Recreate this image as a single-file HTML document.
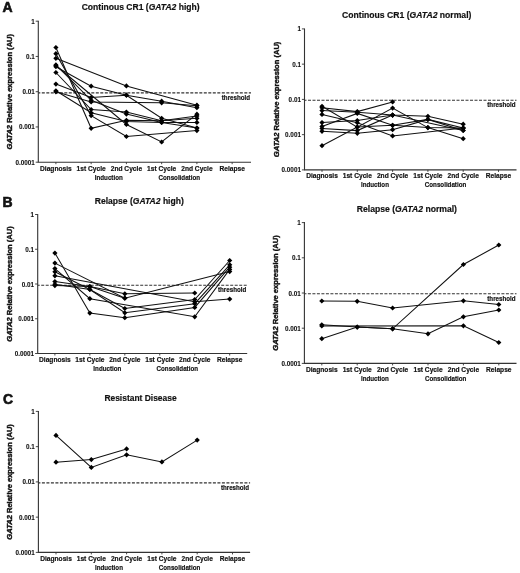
<!DOCTYPE html>
<html><head><meta charset="utf-8"><style>
html,body{margin:0;padding:0;background:#fff;}
svg{display:block;filter:blur(0.3px);}
text{font-family:"Liberation Sans", sans-serif;fill:#111;stroke:#111;stroke-width:0.18px;}
</style></head><body>
<svg width="520" height="573" viewBox="0 0 520 573">
<path d="M38.30 20.70 V162.20 H251.00" stroke="#333" stroke-width="1.1" fill="none"/>
<line x1="35.70" y1="21.20" x2="38.30" y2="21.20" stroke="#333" stroke-width="0.9"/>
<text transform="translate(34.70,23.70) scale(0.93,1)" font-size="6.8" text-anchor="end" font-weight="bold" style="stroke-width:0.1px">1</text>
<line x1="35.70" y1="56.45" x2="38.30" y2="56.45" stroke="#333" stroke-width="0.9"/>
<text transform="translate(34.70,58.95) scale(0.93,1)" font-size="6.8" text-anchor="end" font-weight="bold" style="stroke-width:0.1px">0.1</text>
<line x1="35.70" y1="91.70" x2="38.30" y2="91.70" stroke="#333" stroke-width="0.9"/>
<text transform="translate(34.70,94.20) scale(0.93,1)" font-size="6.8" text-anchor="end" font-weight="bold" style="stroke-width:0.1px">0.01</text>
<line x1="35.70" y1="126.95" x2="38.30" y2="126.95" stroke="#333" stroke-width="0.9"/>
<text transform="translate(34.70,129.45) scale(0.93,1)" font-size="6.8" text-anchor="end" font-weight="bold" style="stroke-width:0.1px">0.001</text>
<line x1="35.70" y1="162.20" x2="38.30" y2="162.20" stroke="#333" stroke-width="0.9"/>
<text transform="translate(34.70,164.70) scale(0.93,1)" font-size="6.8" text-anchor="end" font-weight="bold" style="stroke-width:0.1px">0.0001</text>
<line x1="55.90" y1="162.20" x2="55.90" y2="164.20" stroke="#333" stroke-width="0.9"/>
<text transform="translate(55.90,170.50) scale(0.95,1)" font-size="7.0" text-anchor="middle" font-weight="bold" >Diagnosis</text>
<line x1="91.15" y1="162.20" x2="91.15" y2="164.20" stroke="#333" stroke-width="0.9"/>
<text transform="translate(91.15,170.50) scale(0.95,1)" font-size="7.0" text-anchor="middle" font-weight="bold" >1st Cycle</text>
<line x1="126.40" y1="162.20" x2="126.40" y2="164.20" stroke="#333" stroke-width="0.9"/>
<text transform="translate(126.40,170.50) scale(0.95,1)" font-size="7.0" text-anchor="middle" font-weight="bold" >2nd Cycle</text>
<line x1="161.65" y1="162.20" x2="161.65" y2="164.20" stroke="#333" stroke-width="0.9"/>
<text transform="translate(161.65,170.50) scale(0.95,1)" font-size="7.0" text-anchor="middle" font-weight="bold" >1st Cycle</text>
<line x1="196.90" y1="162.20" x2="196.90" y2="164.20" stroke="#333" stroke-width="0.9"/>
<text transform="translate(196.90,170.50) scale(0.95,1)" font-size="7.0" text-anchor="middle" font-weight="bold" >2nd Cycle</text>
<line x1="232.15" y1="162.20" x2="232.15" y2="164.20" stroke="#333" stroke-width="0.9"/>
<text transform="translate(232.15,170.50) scale(0.95,1)" font-size="7.0" text-anchor="middle" font-weight="bold" >Relapse</text>
<text transform="translate(108.78,179.60) scale(0.89,1)" font-size="7.0" text-anchor="middle" font-weight="bold" >Induction</text>
<text transform="translate(179.28,179.60) scale(0.89,1)" font-size="7.0" text-anchor="middle" font-weight="bold" >Consolidation</text>
<line x1="38.30" y1="92.90" x2="251.00" y2="92.90" stroke="#333" stroke-width="1.1" stroke-dasharray="3.0 1.5" stroke-dashoffset="1"/>
<text transform="translate(250.00,99.60) scale(0.94,1)" font-size="6.6" text-anchor="end" font-weight="bold" >threshold</text>
<text x="0" y="0" font-size="7.55" font-weight="bold" text-anchor="middle" style="stroke-width:0.4px" transform="translate(12.30,91.70) rotate(-90)"><tspan font-style="italic">GATA2</tspan> Relative expression (AU)</text>
<text x="81.70" y="10.10" font-size="8.55" font-weight="bold">Continous CR1 (<tspan font-style="italic">GATA2</tspan> high)</text>
<path d="M55.90 47.50 L91.15 128.30 L126.40 120.30 L161.65 120.80 L196.90 115.90" stroke="#111" stroke-width="1.05" fill="none"/>
<path d="M55.90 53.70 L91.15 115.60 L126.40 136.50 L196.90 130.60" stroke="#111" stroke-width="1.05" fill="none"/>
<path d="M55.90 58.30 L126.40 85.90 L196.90 105.20" stroke="#111" stroke-width="1.05" fill="none"/>
<path d="M55.90 64.90 L91.15 100.30 L126.40 114.10 L161.65 122.40 L196.90 122.40" stroke="#111" stroke-width="1.05" fill="none"/>
<path d="M55.90 66.70 L91.15 86.20 L126.40 95.20 L161.65 118.30 L196.90 128.10" stroke="#111" stroke-width="1.05" fill="none"/>
<path d="M55.90 72.50 L91.15 109.50 L126.40 112.00 L161.65 120.80 L196.90 118.30" stroke="#111" stroke-width="1.05" fill="none"/>
<path d="M55.90 84.10 L91.15 97.50 L126.40 95.20 L161.65 101.20 L196.90 107.70" stroke="#111" stroke-width="1.05" fill="none"/>
<path d="M55.90 90.80 L91.15 112.80 L126.40 121.50 L161.65 122.40 L196.90 128.10" stroke="#111" stroke-width="1.05" fill="none"/>
<path d="M55.90 91.80 L91.15 102.00 L161.65 102.80 L196.90 105.80" stroke="#111" stroke-width="1.05" fill="none"/>
<path d="M55.90 65.50 L126.40 124.50 L161.65 142.00 L196.90 114.20" stroke="#111" stroke-width="1.05" fill="none"/>
<path d="M55.90 44.90 L58.50 47.50 L55.90 50.10 L53.30 47.50Z" fill="#000"/>
<path d="M91.15 125.70 L93.75 128.30 L91.15 130.90 L88.55 128.30Z" fill="#000"/>
<path d="M126.40 117.70 L129.00 120.30 L126.40 122.90 L123.80 120.30Z" fill="#000"/>
<path d="M161.65 118.20 L164.25 120.80 L161.65 123.40 L159.05 120.80Z" fill="#000"/>
<path d="M196.90 113.30 L199.50 115.90 L196.90 118.50 L194.30 115.90Z" fill="#000"/>
<path d="M55.90 51.10 L58.50 53.70 L55.90 56.30 L53.30 53.70Z" fill="#000"/>
<path d="M91.15 113.00 L93.75 115.60 L91.15 118.20 L88.55 115.60Z" fill="#000"/>
<path d="M126.40 133.90 L129.00 136.50 L126.40 139.10 L123.80 136.50Z" fill="#000"/>
<path d="M196.90 128.00 L199.50 130.60 L196.90 133.20 L194.30 130.60Z" fill="#000"/>
<path d="M55.90 55.70 L58.50 58.30 L55.90 60.90 L53.30 58.30Z" fill="#000"/>
<path d="M126.40 83.30 L129.00 85.90 L126.40 88.50 L123.80 85.90Z" fill="#000"/>
<path d="M196.90 102.60 L199.50 105.20 L196.90 107.80 L194.30 105.20Z" fill="#000"/>
<path d="M55.90 62.30 L58.50 64.90 L55.90 67.50 L53.30 64.90Z" fill="#000"/>
<path d="M91.15 97.70 L93.75 100.30 L91.15 102.90 L88.55 100.30Z" fill="#000"/>
<path d="M126.40 111.50 L129.00 114.10 L126.40 116.70 L123.80 114.10Z" fill="#000"/>
<path d="M161.65 119.80 L164.25 122.40 L161.65 125.00 L159.05 122.40Z" fill="#000"/>
<path d="M196.90 119.80 L199.50 122.40 L196.90 125.00 L194.30 122.40Z" fill="#000"/>
<path d="M55.90 64.10 L58.50 66.70 L55.90 69.30 L53.30 66.70Z" fill="#000"/>
<path d="M91.15 83.60 L93.75 86.20 L91.15 88.80 L88.55 86.20Z" fill="#000"/>
<path d="M126.40 92.60 L129.00 95.20 L126.40 97.80 L123.80 95.20Z" fill="#000"/>
<path d="M161.65 115.70 L164.25 118.30 L161.65 120.90 L159.05 118.30Z" fill="#000"/>
<path d="M196.90 125.50 L199.50 128.10 L196.90 130.70 L194.30 128.10Z" fill="#000"/>
<path d="M55.90 69.90 L58.50 72.50 L55.90 75.10 L53.30 72.50Z" fill="#000"/>
<path d="M91.15 106.90 L93.75 109.50 L91.15 112.10 L88.55 109.50Z" fill="#000"/>
<path d="M126.40 109.40 L129.00 112.00 L126.40 114.60 L123.80 112.00Z" fill="#000"/>
<path d="M161.65 118.20 L164.25 120.80 L161.65 123.40 L159.05 120.80Z" fill="#000"/>
<path d="M196.90 115.70 L199.50 118.30 L196.90 120.90 L194.30 118.30Z" fill="#000"/>
<path d="M55.90 81.50 L58.50 84.10 L55.90 86.70 L53.30 84.10Z" fill="#000"/>
<path d="M91.15 94.90 L93.75 97.50 L91.15 100.10 L88.55 97.50Z" fill="#000"/>
<path d="M126.40 92.60 L129.00 95.20 L126.40 97.80 L123.80 95.20Z" fill="#000"/>
<path d="M161.65 98.60 L164.25 101.20 L161.65 103.80 L159.05 101.20Z" fill="#000"/>
<path d="M196.90 105.10 L199.50 107.70 L196.90 110.30 L194.30 107.70Z" fill="#000"/>
<path d="M55.90 88.20 L58.50 90.80 L55.90 93.40 L53.30 90.80Z" fill="#000"/>
<path d="M91.15 110.20 L93.75 112.80 L91.15 115.40 L88.55 112.80Z" fill="#000"/>
<path d="M126.40 118.90 L129.00 121.50 L126.40 124.10 L123.80 121.50Z" fill="#000"/>
<path d="M161.65 119.80 L164.25 122.40 L161.65 125.00 L159.05 122.40Z" fill="#000"/>
<path d="M196.90 125.50 L199.50 128.10 L196.90 130.70 L194.30 128.10Z" fill="#000"/>
<path d="M55.90 89.20 L58.50 91.80 L55.90 94.40 L53.30 91.80Z" fill="#000"/>
<path d="M91.15 99.40 L93.75 102.00 L91.15 104.60 L88.55 102.00Z" fill="#000"/>
<path d="M161.65 100.20 L164.25 102.80 L161.65 105.40 L159.05 102.80Z" fill="#000"/>
<path d="M196.90 103.20 L199.50 105.80 L196.90 108.40 L194.30 105.80Z" fill="#000"/>
<path d="M55.90 62.90 L58.50 65.50 L55.90 68.10 L53.30 65.50Z" fill="#000"/>
<path d="M126.40 121.90 L129.00 124.50 L126.40 127.10 L123.80 124.50Z" fill="#000"/>
<path d="M161.65 139.40 L164.25 142.00 L161.65 144.60 L159.05 142.00Z" fill="#000"/>
<path d="M196.90 111.60 L199.50 114.20 L196.90 116.80 L194.30 114.20Z" fill="#000"/>
<path d="M304.50 28.40 V169.90 H516.50" stroke="#333" stroke-width="1.1" fill="none"/>
<line x1="301.90" y1="28.90" x2="304.50" y2="28.90" stroke="#333" stroke-width="0.9"/>
<text transform="translate(300.90,31.40) scale(0.93,1)" font-size="6.8" text-anchor="end" font-weight="bold" style="stroke-width:0.1px">1</text>
<line x1="301.90" y1="64.15" x2="304.50" y2="64.15" stroke="#333" stroke-width="0.9"/>
<text transform="translate(300.90,66.65) scale(0.93,1)" font-size="6.8" text-anchor="end" font-weight="bold" style="stroke-width:0.1px">0.1</text>
<line x1="301.90" y1="99.40" x2="304.50" y2="99.40" stroke="#333" stroke-width="0.9"/>
<text transform="translate(300.90,101.90) scale(0.93,1)" font-size="6.8" text-anchor="end" font-weight="bold" style="stroke-width:0.1px">0.01</text>
<line x1="301.90" y1="134.65" x2="304.50" y2="134.65" stroke="#333" stroke-width="0.9"/>
<text transform="translate(300.90,137.15) scale(0.93,1)" font-size="6.8" text-anchor="end" font-weight="bold" style="stroke-width:0.1px">0.001</text>
<line x1="301.90" y1="169.90" x2="304.50" y2="169.90" stroke="#333" stroke-width="0.9"/>
<text transform="translate(300.90,172.40) scale(0.93,1)" font-size="6.8" text-anchor="end" font-weight="bold" style="stroke-width:0.1px">0.0001</text>
<line x1="322.00" y1="169.90" x2="322.00" y2="171.90" stroke="#333" stroke-width="0.9"/>
<text transform="translate(322.00,178.20) scale(0.95,1)" font-size="7.0" text-anchor="middle" font-weight="bold" >Diagnosis</text>
<line x1="357.30" y1="169.90" x2="357.30" y2="171.90" stroke="#333" stroke-width="0.9"/>
<text transform="translate(357.30,178.20) scale(0.95,1)" font-size="7.0" text-anchor="middle" font-weight="bold" >1st Cycle</text>
<line x1="392.60" y1="169.90" x2="392.60" y2="171.90" stroke="#333" stroke-width="0.9"/>
<text transform="translate(392.60,178.20) scale(0.95,1)" font-size="7.0" text-anchor="middle" font-weight="bold" >2nd Cycle</text>
<line x1="427.90" y1="169.90" x2="427.90" y2="171.90" stroke="#333" stroke-width="0.9"/>
<text transform="translate(427.90,178.20) scale(0.95,1)" font-size="7.0" text-anchor="middle" font-weight="bold" >1st Cycle</text>
<line x1="463.20" y1="169.90" x2="463.20" y2="171.90" stroke="#333" stroke-width="0.9"/>
<text transform="translate(463.20,178.20) scale(0.95,1)" font-size="7.0" text-anchor="middle" font-weight="bold" >2nd Cycle</text>
<line x1="498.50" y1="169.90" x2="498.50" y2="171.90" stroke="#333" stroke-width="0.9"/>
<text transform="translate(498.50,178.20) scale(0.95,1)" font-size="7.0" text-anchor="middle" font-weight="bold" >Relapse</text>
<text transform="translate(374.95,187.30) scale(0.89,1)" font-size="7.0" text-anchor="middle" font-weight="bold" >Induction</text>
<text transform="translate(445.55,187.30) scale(0.89,1)" font-size="7.0" text-anchor="middle" font-weight="bold" >Consolidation</text>
<line x1="304.50" y1="100.30" x2="516.50" y2="100.30" stroke="#333" stroke-width="1.1" stroke-dasharray="3.0 1.5" stroke-dashoffset="1"/>
<text transform="translate(515.50,107.00) scale(0.94,1)" font-size="6.6" text-anchor="end" font-weight="bold" >threshold</text>
<text x="0" y="0" font-size="7.55" font-weight="bold" text-anchor="middle" style="stroke-width:0.4px" transform="translate(278.50,99.40) rotate(-90)"><tspan font-style="italic">GATA2</tspan> Relative expression (AU)</text>
<text x="342.10" y="17.50" font-size="8.62" font-weight="bold">Continous CR1 (<tspan font-style="italic">GATA2</tspan> normal)</text>
<path d="M322.00 106.30 L357.30 127.10 L392.60 108.10 L427.90 127.60 L463.20 138.70" stroke="#111" stroke-width="1.05" fill="none"/>
<path d="M322.00 107.70 L357.30 111.60 L392.60 101.90" stroke="#111" stroke-width="1.05" fill="none"/>
<path d="M322.00 110.60 L357.30 112.20 L392.60 115.10 L427.90 116.30 L463.20 124.20" stroke="#111" stroke-width="1.05" fill="none"/>
<path d="M322.00 126.40 L357.30 113.40 L392.60 125.30 L427.90 119.40 L463.20 130.50" stroke="#111" stroke-width="1.05" fill="none"/>
<path d="M322.00 114.40 L357.30 122.70 L392.60 135.90 L463.20 128.10" stroke="#111" stroke-width="1.05" fill="none"/>
<path d="M322.00 122.60 L357.30 120.50 L392.60 115.10 L463.20 130.50" stroke="#111" stroke-width="1.05" fill="none"/>
<path d="M322.00 131.30 L357.30 133.30 L392.60 129.70 L427.90 119.40 L463.20 128.10" stroke="#111" stroke-width="1.05" fill="none"/>
<path d="M322.00 145.70 L357.30 127.10 L392.60 125.30 L427.90 127.60 L463.20 128.10" stroke="#111" stroke-width="1.05" fill="none"/>
<path d="M322.00 128.50 L357.30 130.60 L392.60 115.10" stroke="#111" stroke-width="1.05" fill="none"/>
<path d="M322.00 103.70 L324.60 106.30 L322.00 108.90 L319.40 106.30Z" fill="#000"/>
<path d="M357.30 124.50 L359.90 127.10 L357.30 129.70 L354.70 127.10Z" fill="#000"/>
<path d="M392.60 105.50 L395.20 108.10 L392.60 110.70 L390.00 108.10Z" fill="#000"/>
<path d="M427.90 125.00 L430.50 127.60 L427.90 130.20 L425.30 127.60Z" fill="#000"/>
<path d="M463.20 136.10 L465.80 138.70 L463.20 141.30 L460.60 138.70Z" fill="#000"/>
<path d="M322.00 105.10 L324.60 107.70 L322.00 110.30 L319.40 107.70Z" fill="#000"/>
<path d="M357.30 109.00 L359.90 111.60 L357.30 114.20 L354.70 111.60Z" fill="#000"/>
<path d="M392.60 99.30 L395.20 101.90 L392.60 104.50 L390.00 101.90Z" fill="#000"/>
<path d="M322.00 108.00 L324.60 110.60 L322.00 113.20 L319.40 110.60Z" fill="#000"/>
<path d="M357.30 109.60 L359.90 112.20 L357.30 114.80 L354.70 112.20Z" fill="#000"/>
<path d="M392.60 112.50 L395.20 115.10 L392.60 117.70 L390.00 115.10Z" fill="#000"/>
<path d="M427.90 113.70 L430.50 116.30 L427.90 118.90 L425.30 116.30Z" fill="#000"/>
<path d="M463.20 121.60 L465.80 124.20 L463.20 126.80 L460.60 124.20Z" fill="#000"/>
<path d="M322.00 123.80 L324.60 126.40 L322.00 129.00 L319.40 126.40Z" fill="#000"/>
<path d="M357.30 110.80 L359.90 113.40 L357.30 116.00 L354.70 113.40Z" fill="#000"/>
<path d="M392.60 122.70 L395.20 125.30 L392.60 127.90 L390.00 125.30Z" fill="#000"/>
<path d="M427.90 116.80 L430.50 119.40 L427.90 122.00 L425.30 119.40Z" fill="#000"/>
<path d="M463.20 127.90 L465.80 130.50 L463.20 133.10 L460.60 130.50Z" fill="#000"/>
<path d="M322.00 111.80 L324.60 114.40 L322.00 117.00 L319.40 114.40Z" fill="#000"/>
<path d="M357.30 120.10 L359.90 122.70 L357.30 125.30 L354.70 122.70Z" fill="#000"/>
<path d="M392.60 133.30 L395.20 135.90 L392.60 138.50 L390.00 135.90Z" fill="#000"/>
<path d="M463.20 125.50 L465.80 128.10 L463.20 130.70 L460.60 128.10Z" fill="#000"/>
<path d="M322.00 120.00 L324.60 122.60 L322.00 125.20 L319.40 122.60Z" fill="#000"/>
<path d="M357.30 117.90 L359.90 120.50 L357.30 123.10 L354.70 120.50Z" fill="#000"/>
<path d="M392.60 112.50 L395.20 115.10 L392.60 117.70 L390.00 115.10Z" fill="#000"/>
<path d="M463.20 127.90 L465.80 130.50 L463.20 133.10 L460.60 130.50Z" fill="#000"/>
<path d="M322.00 128.70 L324.60 131.30 L322.00 133.90 L319.40 131.30Z" fill="#000"/>
<path d="M357.30 130.70 L359.90 133.30 L357.30 135.90 L354.70 133.30Z" fill="#000"/>
<path d="M392.60 127.10 L395.20 129.70 L392.60 132.30 L390.00 129.70Z" fill="#000"/>
<path d="M427.90 116.80 L430.50 119.40 L427.90 122.00 L425.30 119.40Z" fill="#000"/>
<path d="M463.20 125.50 L465.80 128.10 L463.20 130.70 L460.60 128.10Z" fill="#000"/>
<path d="M322.00 143.10 L324.60 145.70 L322.00 148.30 L319.40 145.70Z" fill="#000"/>
<path d="M357.30 124.50 L359.90 127.10 L357.30 129.70 L354.70 127.10Z" fill="#000"/>
<path d="M392.60 122.70 L395.20 125.30 L392.60 127.90 L390.00 125.30Z" fill="#000"/>
<path d="M427.90 125.00 L430.50 127.60 L427.90 130.20 L425.30 127.60Z" fill="#000"/>
<path d="M463.20 125.50 L465.80 128.10 L463.20 130.70 L460.60 128.10Z" fill="#000"/>
<path d="M322.00 125.90 L324.60 128.50 L322.00 131.10 L319.40 128.50Z" fill="#000"/>
<path d="M357.30 128.00 L359.90 130.60 L357.30 133.20 L354.70 130.60Z" fill="#000"/>
<path d="M392.60 112.50 L395.20 115.10 L392.60 117.70 L390.00 115.10Z" fill="#000"/>
<path d="M37.70 214.00 V353.50 H247.20" stroke="#333" stroke-width="1.1" fill="none"/>
<line x1="35.10" y1="214.50" x2="37.70" y2="214.50" stroke="#333" stroke-width="0.9"/>
<text transform="translate(34.10,217.00) scale(0.93,1)" font-size="6.8" text-anchor="end" font-weight="bold" style="stroke-width:0.1px">1</text>
<line x1="35.10" y1="249.25" x2="37.70" y2="249.25" stroke="#333" stroke-width="0.9"/>
<text transform="translate(34.10,251.75) scale(0.93,1)" font-size="6.8" text-anchor="end" font-weight="bold" style="stroke-width:0.1px">0.1</text>
<line x1="35.10" y1="284.00" x2="37.70" y2="284.00" stroke="#333" stroke-width="0.9"/>
<text transform="translate(34.10,286.50) scale(0.93,1)" font-size="6.8" text-anchor="end" font-weight="bold" style="stroke-width:0.1px">0.01</text>
<line x1="35.10" y1="318.75" x2="37.70" y2="318.75" stroke="#333" stroke-width="0.9"/>
<text transform="translate(34.10,321.25) scale(0.93,1)" font-size="6.8" text-anchor="end" font-weight="bold" style="stroke-width:0.1px">0.001</text>
<line x1="35.10" y1="353.50" x2="37.70" y2="353.50" stroke="#333" stroke-width="0.9"/>
<text transform="translate(34.10,356.00) scale(0.93,1)" font-size="6.8" text-anchor="end" font-weight="bold" style="stroke-width:0.1px">0.0001</text>
<line x1="54.90" y1="353.50" x2="54.90" y2="355.50" stroke="#333" stroke-width="0.9"/>
<text transform="translate(54.90,361.80) scale(0.95,1)" font-size="7.0" text-anchor="middle" font-weight="bold" >Diagnosis</text>
<line x1="89.86" y1="353.50" x2="89.86" y2="355.50" stroke="#333" stroke-width="0.9"/>
<text transform="translate(89.86,361.80) scale(0.95,1)" font-size="7.0" text-anchor="middle" font-weight="bold" >1st Cycle</text>
<line x1="124.82" y1="353.50" x2="124.82" y2="355.50" stroke="#333" stroke-width="0.9"/>
<text transform="translate(124.82,361.80) scale(0.95,1)" font-size="7.0" text-anchor="middle" font-weight="bold" >2nd Cycle</text>
<line x1="159.78" y1="353.50" x2="159.78" y2="355.50" stroke="#333" stroke-width="0.9"/>
<text transform="translate(159.78,361.80) scale(0.95,1)" font-size="7.0" text-anchor="middle" font-weight="bold" >1st Cycle</text>
<line x1="194.74" y1="353.50" x2="194.74" y2="355.50" stroke="#333" stroke-width="0.9"/>
<text transform="translate(194.74,361.80) scale(0.95,1)" font-size="7.0" text-anchor="middle" font-weight="bold" >2nd Cycle</text>
<line x1="229.70" y1="353.50" x2="229.70" y2="355.50" stroke="#333" stroke-width="0.9"/>
<text transform="translate(229.70,361.80) scale(0.95,1)" font-size="7.0" text-anchor="middle" font-weight="bold" >Relapse</text>
<text transform="translate(107.34,370.90) scale(0.89,1)" font-size="7.0" text-anchor="middle" font-weight="bold" >Induction</text>
<text transform="translate(177.26,370.90) scale(0.89,1)" font-size="7.0" text-anchor="middle" font-weight="bold" >Consolidation</text>
<line x1="37.70" y1="285.30" x2="247.20" y2="285.30" stroke="#333" stroke-width="1.1" stroke-dasharray="3.0 1.5" stroke-dashoffset="1"/>
<text transform="translate(246.20,292.00) scale(0.94,1)" font-size="6.6" text-anchor="end" font-weight="bold" >threshold</text>
<text x="0" y="0" font-size="7.55" font-weight="bold" text-anchor="middle" style="stroke-width:0.4px" transform="translate(11.70,284.00) rotate(-90)"><tspan font-style="italic">GATA2</tspan> Relative expression (AU)</text>
<text x="94.80" y="204.00" font-size="8.55" font-weight="bold">Relapse (<tspan font-style="italic">GATA2</tspan> high)</text>
<path d="M54.90 253.10 L89.86 313.10 L124.82 317.70 L194.74 307.40 L229.70 267.20" stroke="#111" stroke-width="1.05" fill="none"/>
<path d="M54.90 263.10 L124.82 298.20 L229.70 271.60" stroke="#111" stroke-width="1.05" fill="none"/>
<path d="M54.90 268.60 L89.86 298.70 L194.74 316.80 L229.70 269.40" stroke="#111" stroke-width="1.05" fill="none"/>
<path d="M54.90 271.80 L89.86 289.50 L124.82 308.50 L194.74 299.50 L229.70 260.50" stroke="#111" stroke-width="1.05" fill="none"/>
<path d="M54.90 275.80 L194.74 301.70 L229.70 299.10" stroke="#111" stroke-width="1.05" fill="none"/>
<path d="M54.90 281.60 L89.86 286.60 L124.82 293.80 L194.74 293.00" stroke="#111" stroke-width="1.05" fill="none"/>
<path d="M54.90 284.30 L89.86 289.50 L124.82 312.80 L194.74 303.70 L229.70 264.80" stroke="#111" stroke-width="1.05" fill="none"/>
<path d="M54.90 285.60 L89.86 286.60 L124.82 298.20" stroke="#111" stroke-width="1.05" fill="none"/>
<path d="M54.90 250.50 L57.50 253.10 L54.90 255.70 L52.30 253.10Z" fill="#000"/>
<path d="M89.86 310.50 L92.46 313.10 L89.86 315.70 L87.26 313.10Z" fill="#000"/>
<path d="M124.82 315.10 L127.42 317.70 L124.82 320.30 L122.22 317.70Z" fill="#000"/>
<path d="M194.74 304.80 L197.34 307.40 L194.74 310.00 L192.14 307.40Z" fill="#000"/>
<path d="M229.70 264.60 L232.30 267.20 L229.70 269.80 L227.10 267.20Z" fill="#000"/>
<path d="M54.90 260.50 L57.50 263.10 L54.90 265.70 L52.30 263.10Z" fill="#000"/>
<path d="M124.82 295.60 L127.42 298.20 L124.82 300.80 L122.22 298.20Z" fill="#000"/>
<path d="M229.70 269.00 L232.30 271.60 L229.70 274.20 L227.10 271.60Z" fill="#000"/>
<path d="M54.90 266.00 L57.50 268.60 L54.90 271.20 L52.30 268.60Z" fill="#000"/>
<path d="M89.86 296.10 L92.46 298.70 L89.86 301.30 L87.26 298.70Z" fill="#000"/>
<path d="M194.74 314.20 L197.34 316.80 L194.74 319.40 L192.14 316.80Z" fill="#000"/>
<path d="M229.70 266.80 L232.30 269.40 L229.70 272.00 L227.10 269.40Z" fill="#000"/>
<path d="M54.90 269.20 L57.50 271.80 L54.90 274.40 L52.30 271.80Z" fill="#000"/>
<path d="M89.86 286.90 L92.46 289.50 L89.86 292.10 L87.26 289.50Z" fill="#000"/>
<path d="M124.82 305.90 L127.42 308.50 L124.82 311.10 L122.22 308.50Z" fill="#000"/>
<path d="M194.74 296.90 L197.34 299.50 L194.74 302.10 L192.14 299.50Z" fill="#000"/>
<path d="M229.70 257.90 L232.30 260.50 L229.70 263.10 L227.10 260.50Z" fill="#000"/>
<path d="M54.90 273.20 L57.50 275.80 L54.90 278.40 L52.30 275.80Z" fill="#000"/>
<path d="M194.74 299.10 L197.34 301.70 L194.74 304.30 L192.14 301.70Z" fill="#000"/>
<path d="M229.70 296.50 L232.30 299.10 L229.70 301.70 L227.10 299.10Z" fill="#000"/>
<path d="M54.90 279.00 L57.50 281.60 L54.90 284.20 L52.30 281.60Z" fill="#000"/>
<path d="M89.86 284.00 L92.46 286.60 L89.86 289.20 L87.26 286.60Z" fill="#000"/>
<path d="M124.82 291.20 L127.42 293.80 L124.82 296.40 L122.22 293.80Z" fill="#000"/>
<path d="M194.74 290.40 L197.34 293.00 L194.74 295.60 L192.14 293.00Z" fill="#000"/>
<path d="M54.90 281.70 L57.50 284.30 L54.90 286.90 L52.30 284.30Z" fill="#000"/>
<path d="M89.86 286.90 L92.46 289.50 L89.86 292.10 L87.26 289.50Z" fill="#000"/>
<path d="M124.82 310.20 L127.42 312.80 L124.82 315.40 L122.22 312.80Z" fill="#000"/>
<path d="M194.74 301.10 L197.34 303.70 L194.74 306.30 L192.14 303.70Z" fill="#000"/>
<path d="M229.70 262.20 L232.30 264.80 L229.70 267.40 L227.10 264.80Z" fill="#000"/>
<path d="M54.90 283.00 L57.50 285.60 L54.90 288.20 L52.30 285.60Z" fill="#000"/>
<path d="M89.86 284.00 L92.46 286.60 L89.86 289.20 L87.26 286.60Z" fill="#000"/>
<path d="M124.82 295.60 L127.42 298.20 L124.82 300.80 L122.22 298.20Z" fill="#000"/>
<path d="M304.40 222.10 V363.40 H516.50" stroke="#333" stroke-width="1.1" fill="none"/>
<line x1="301.80" y1="222.60" x2="304.40" y2="222.60" stroke="#333" stroke-width="0.9"/>
<text transform="translate(300.80,225.10) scale(0.93,1)" font-size="6.8" text-anchor="end" font-weight="bold" style="stroke-width:0.1px">1</text>
<line x1="301.80" y1="257.80" x2="304.40" y2="257.80" stroke="#333" stroke-width="0.9"/>
<text transform="translate(300.80,260.30) scale(0.93,1)" font-size="6.8" text-anchor="end" font-weight="bold" style="stroke-width:0.1px">0.1</text>
<line x1="301.80" y1="293.00" x2="304.40" y2="293.00" stroke="#333" stroke-width="0.9"/>
<text transform="translate(300.80,295.50) scale(0.93,1)" font-size="6.8" text-anchor="end" font-weight="bold" style="stroke-width:0.1px">0.01</text>
<line x1="301.80" y1="328.20" x2="304.40" y2="328.20" stroke="#333" stroke-width="0.9"/>
<text transform="translate(300.80,330.70) scale(0.93,1)" font-size="6.8" text-anchor="end" font-weight="bold" style="stroke-width:0.1px">0.001</text>
<line x1="301.80" y1="363.40" x2="304.40" y2="363.40" stroke="#333" stroke-width="0.9"/>
<text transform="translate(300.80,365.90) scale(0.93,1)" font-size="6.8" text-anchor="end" font-weight="bold" style="stroke-width:0.1px">0.0001</text>
<line x1="321.80" y1="363.40" x2="321.80" y2="365.40" stroke="#333" stroke-width="0.9"/>
<text transform="translate(321.80,371.70) scale(0.95,1)" font-size="7.0" text-anchor="middle" font-weight="bold" >Diagnosis</text>
<line x1="357.20" y1="363.40" x2="357.20" y2="365.40" stroke="#333" stroke-width="0.9"/>
<text transform="translate(357.20,371.70) scale(0.95,1)" font-size="7.0" text-anchor="middle" font-weight="bold" >1st Cycle</text>
<line x1="392.60" y1="363.40" x2="392.60" y2="365.40" stroke="#333" stroke-width="0.9"/>
<text transform="translate(392.60,371.70) scale(0.95,1)" font-size="7.0" text-anchor="middle" font-weight="bold" >2nd Cycle</text>
<line x1="428.00" y1="363.40" x2="428.00" y2="365.40" stroke="#333" stroke-width="0.9"/>
<text transform="translate(428.00,371.70) scale(0.95,1)" font-size="7.0" text-anchor="middle" font-weight="bold" >1st Cycle</text>
<line x1="463.40" y1="363.40" x2="463.40" y2="365.40" stroke="#333" stroke-width="0.9"/>
<text transform="translate(463.40,371.70) scale(0.95,1)" font-size="7.0" text-anchor="middle" font-weight="bold" >2nd Cycle</text>
<line x1="498.80" y1="363.40" x2="498.80" y2="365.40" stroke="#333" stroke-width="0.9"/>
<text transform="translate(498.80,371.70) scale(0.95,1)" font-size="7.0" text-anchor="middle" font-weight="bold" >Relapse</text>
<text transform="translate(374.90,380.80) scale(0.89,1)" font-size="7.0" text-anchor="middle" font-weight="bold" >Induction</text>
<text transform="translate(445.70,380.80) scale(0.89,1)" font-size="7.0" text-anchor="middle" font-weight="bold" >Consolidation</text>
<line x1="304.40" y1="293.80" x2="516.50" y2="293.80" stroke="#333" stroke-width="1.1" stroke-dasharray="3.0 1.5" stroke-dashoffset="1"/>
<text transform="translate(515.50,300.50) scale(0.94,1)" font-size="6.6" text-anchor="end" font-weight="bold" >threshold</text>
<text x="0" y="0" font-size="7.55" font-weight="bold" text-anchor="middle" style="stroke-width:0.4px" transform="translate(278.40,293.00) rotate(-90)"><tspan font-style="italic">GATA2</tspan> Relative expression (AU)</text>
<text x="356.80" y="212.00" font-size="8.62" font-weight="bold">Relapse (<tspan font-style="italic">GATA2</tspan> normal)</text>
<path d="M321.80 301.00 L357.20 301.30 L392.60 308.00 L463.40 300.80 L498.80 304.50" stroke="#111" stroke-width="1.05" fill="none"/>
<path d="M321.80 338.70 L357.20 327.10 L392.60 328.80 L463.40 264.50 L498.80 245.00" stroke="#111" stroke-width="1.05" fill="none"/>
<path d="M321.80 324.80 L357.20 327.10 L392.60 328.80 L428.00 333.80 L463.40 316.80 L498.80 310.00" stroke="#111" stroke-width="1.05" fill="none"/>
<path d="M321.80 326.00 L463.40 325.80 L498.80 342.50" stroke="#111" stroke-width="1.05" fill="none"/>
<path d="M321.80 298.40 L324.40 301.00 L321.80 303.60 L319.20 301.00Z" fill="#000"/>
<path d="M357.20 298.70 L359.80 301.30 L357.20 303.90 L354.60 301.30Z" fill="#000"/>
<path d="M392.60 305.40 L395.20 308.00 L392.60 310.60 L390.00 308.00Z" fill="#000"/>
<path d="M463.40 298.20 L466.00 300.80 L463.40 303.40 L460.80 300.80Z" fill="#000"/>
<path d="M498.80 301.90 L501.40 304.50 L498.80 307.10 L496.20 304.50Z" fill="#000"/>
<path d="M321.80 336.10 L324.40 338.70 L321.80 341.30 L319.20 338.70Z" fill="#000"/>
<path d="M357.20 324.50 L359.80 327.10 L357.20 329.70 L354.60 327.10Z" fill="#000"/>
<path d="M392.60 326.20 L395.20 328.80 L392.60 331.40 L390.00 328.80Z" fill="#000"/>
<path d="M463.40 261.90 L466.00 264.50 L463.40 267.10 L460.80 264.50Z" fill="#000"/>
<path d="M498.80 242.40 L501.40 245.00 L498.80 247.60 L496.20 245.00Z" fill="#000"/>
<path d="M321.80 322.20 L324.40 324.80 L321.80 327.40 L319.20 324.80Z" fill="#000"/>
<path d="M357.20 324.50 L359.80 327.10 L357.20 329.70 L354.60 327.10Z" fill="#000"/>
<path d="M392.60 326.20 L395.20 328.80 L392.60 331.40 L390.00 328.80Z" fill="#000"/>
<path d="M428.00 331.20 L430.60 333.80 L428.00 336.40 L425.40 333.80Z" fill="#000"/>
<path d="M463.40 314.20 L466.00 316.80 L463.40 319.40 L460.80 316.80Z" fill="#000"/>
<path d="M498.80 307.40 L501.40 310.00 L498.80 312.60 L496.20 310.00Z" fill="#000"/>
<path d="M321.80 323.40 L324.40 326.00 L321.80 328.60 L319.20 326.00Z" fill="#000"/>
<path d="M463.40 323.20 L466.00 325.80 L463.40 328.40 L460.80 325.80Z" fill="#000"/>
<path d="M498.80 339.90 L501.40 342.50 L498.80 345.10 L496.20 342.50Z" fill="#000"/>
<path d="M38.40 410.90 V552.40 H250.10" stroke="#333" stroke-width="1.1" fill="none"/>
<line x1="35.80" y1="411.40" x2="38.40" y2="411.40" stroke="#333" stroke-width="0.9"/>
<text transform="translate(34.80,413.90) scale(0.93,1)" font-size="6.8" text-anchor="end" font-weight="bold" style="stroke-width:0.1px">1</text>
<line x1="35.80" y1="446.65" x2="38.40" y2="446.65" stroke="#333" stroke-width="0.9"/>
<text transform="translate(34.80,449.15) scale(0.93,1)" font-size="6.8" text-anchor="end" font-weight="bold" style="stroke-width:0.1px">0.1</text>
<line x1="35.80" y1="481.90" x2="38.40" y2="481.90" stroke="#333" stroke-width="0.9"/>
<text transform="translate(34.80,484.40) scale(0.93,1)" font-size="6.8" text-anchor="end" font-weight="bold" style="stroke-width:0.1px">0.01</text>
<line x1="35.80" y1="517.15" x2="38.40" y2="517.15" stroke="#333" stroke-width="0.9"/>
<text transform="translate(34.80,519.65) scale(0.93,1)" font-size="6.8" text-anchor="end" font-weight="bold" style="stroke-width:0.1px">0.001</text>
<line x1="35.80" y1="552.40" x2="38.40" y2="552.40" stroke="#333" stroke-width="0.9"/>
<text transform="translate(34.80,554.90) scale(0.93,1)" font-size="6.8" text-anchor="end" font-weight="bold" style="stroke-width:0.1px">0.0001</text>
<line x1="56.00" y1="552.40" x2="56.00" y2="554.40" stroke="#333" stroke-width="0.9"/>
<text transform="translate(56.00,560.70) scale(0.95,1)" font-size="7.0" text-anchor="middle" font-weight="bold" >Diagnosis</text>
<line x1="91.30" y1="552.40" x2="91.30" y2="554.40" stroke="#333" stroke-width="0.9"/>
<text transform="translate(91.30,560.70) scale(0.95,1)" font-size="7.0" text-anchor="middle" font-weight="bold" >1st Cycle</text>
<line x1="126.60" y1="552.40" x2="126.60" y2="554.40" stroke="#333" stroke-width="0.9"/>
<text transform="translate(126.60,560.70) scale(0.95,1)" font-size="7.0" text-anchor="middle" font-weight="bold" >2nd Cycle</text>
<line x1="161.90" y1="552.40" x2="161.90" y2="554.40" stroke="#333" stroke-width="0.9"/>
<text transform="translate(161.90,560.70) scale(0.95,1)" font-size="7.0" text-anchor="middle" font-weight="bold" >1st Cycle</text>
<line x1="197.20" y1="552.40" x2="197.20" y2="554.40" stroke="#333" stroke-width="0.9"/>
<text transform="translate(197.20,560.70) scale(0.95,1)" font-size="7.0" text-anchor="middle" font-weight="bold" >2nd Cycle</text>
<line x1="232.50" y1="552.40" x2="232.50" y2="554.40" stroke="#333" stroke-width="0.9"/>
<text transform="translate(232.50,560.70) scale(0.95,1)" font-size="7.0" text-anchor="middle" font-weight="bold" >Relapse</text>
<text transform="translate(108.95,569.80) scale(0.89,1)" font-size="7.0" text-anchor="middle" font-weight="bold" >Induction</text>
<text transform="translate(179.55,569.80) scale(0.89,1)" font-size="7.0" text-anchor="middle" font-weight="bold" >Consolidation</text>
<line x1="38.40" y1="482.90" x2="250.10" y2="482.90" stroke="#333" stroke-width="1.1" stroke-dasharray="3.0 1.5" stroke-dashoffset="1"/>
<text transform="translate(249.10,489.60) scale(0.94,1)" font-size="6.6" text-anchor="end" font-weight="bold" >threshold</text>
<text x="0" y="0" font-size="7.55" font-weight="bold" text-anchor="middle" style="stroke-width:0.4px" transform="translate(12.40,481.90) rotate(-90)"><tspan font-style="italic">GATA2</tspan> Relative expression (AU)</text>
<text x="104.40" y="400.50" font-size="8.45" font-weight="bold">Resistant Disease</text>
<path d="M56.00 435.40 L91.30 467.40 L126.60 454.80 L161.90 461.90 L197.20 440.10" stroke="#111" stroke-width="1.05" fill="none"/>
<path d="M56.00 462.20 L91.30 459.60 L126.60 448.90" stroke="#111" stroke-width="1.05" fill="none"/>
<path d="M56.00 432.80 L58.60 435.40 L56.00 438.00 L53.40 435.40Z" fill="#000"/>
<path d="M91.30 464.80 L93.90 467.40 L91.30 470.00 L88.70 467.40Z" fill="#000"/>
<path d="M126.60 452.20 L129.20 454.80 L126.60 457.40 L124.00 454.80Z" fill="#000"/>
<path d="M161.90 459.30 L164.50 461.90 L161.90 464.50 L159.30 461.90Z" fill="#000"/>
<path d="M197.20 437.50 L199.80 440.10 L197.20 442.70 L194.60 440.10Z" fill="#000"/>
<path d="M56.00 459.60 L58.60 462.20 L56.00 464.80 L53.40 462.20Z" fill="#000"/>
<path d="M91.30 457.00 L93.90 459.60 L91.30 462.20 L88.70 459.60Z" fill="#000"/>
<path d="M126.60 446.30 L129.20 448.90 L126.60 451.50 L124.00 448.90Z" fill="#000"/>
<text x="2.60" y="11.80" font-size="14" text-anchor="start" font-weight="bold" style="stroke-width:0.6px">A</text>
<text x="2.60" y="207.20" font-size="14" text-anchor="start" font-weight="bold" style="stroke-width:0.6px">B</text>
<text x="3.00" y="404.00" font-size="14" text-anchor="start" font-weight="bold" style="stroke-width:0.6px">C</text>
</svg>
</body></html>
